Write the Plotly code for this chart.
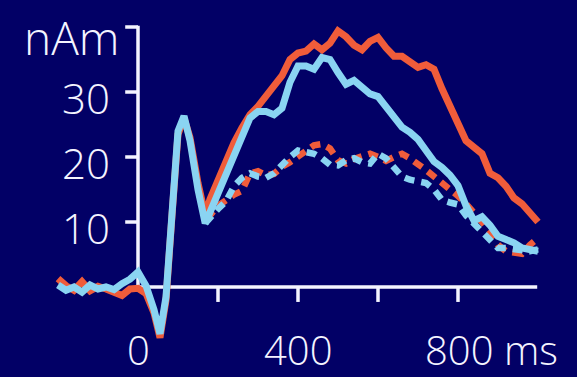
import plotly.graph_objects as go

# ---- data (time in ms, amplitude in nAm) ----
T_PRE = [-200, -180, -160, -140, -120, -100, -80, -60, -40, -20, 0]
T_EARLY = [20, 40, 55, 70, 85, 100, 115, 130, 150, 168]
T_LATE = list(range(180, 1001, 20))
TIME = T_PRE + T_EARLY + T_LATE
TIME_DOTTED = [168] + T_LATE

blue_solid = ([0.3, -0.5, 0.0, -0.8, 0.3, -0.3, 0.0, -0.4, 0.5, 1.2, 2.3]
              + [0.2, -3.5, -7.2, -1.5, 11.5, 24.0, 26.3, 22.5, 15.0, 9.8]
              + [11.5, 14.3, 17.5, 20.5, 23.3, 26.0, 27.0, 27.0, 26.5, 27.5,
                 31.5, 34.0, 34.0, 33.5, 35.3, 35.0, 33.0, 31.2, 31.8, 30.8,
                 29.7, 29.3, 27.8, 26.0, 24.6, 23.8, 22.7, 21.0, 19.3, 18.4,
                 17.2, 15.6, 12.5, 10.2, 10.8, 9.5, 7.8, 7.3, 6.8, 6.0,
                 5.7, 5.5])

orange_solid = ([1.3, 0.2, -0.5, 0.8, -0.6, 0.1, -0.3, -0.8, -1.3, -0.3, -0.2]
                + [-1.0, -4.0, -7.8, -2.0, 11.0, 23.5, 26.0, 23.0, 16.0, 11.0]
                + [13.5, 16.5, 19.5, 22.2, 24.5, 26.5, 27.8, 29.5, 30.8, 32.5,
                   35.0, 36.0, 36.3, 37.4, 36.5, 37.5, 39.4, 38.5, 37.2, 36.5,
                   37.8, 38.4, 36.8, 35.5, 35.5, 34.8, 33.8, 34.2, 33.5, 30.5,
                   27.8, 25.5, 22.5, 21.5, 20.5, 17.5, 16.8, 15.5, 13.7, 12.8,
                   11.2, 10.0])

orange_dotted = [11.0,
                 11.0, 12.5, 13.5, 14.2, 14.8, 17.5, 17.8, 17.2, 17.4, 18.5,
                 19.2, 20.0, 20.8, 21.8, 22.0, 21.3, 19.5, 19.0, 19.7, 20.2,
                 20.5, 20.0, 19.4, 20.0, 20.5, 19.8, 19.0, 18.0, 17.0, 16.0,
                 15.2, 14.0, 12.8, 11.5, 10.0, 8.5, 6.5, 5.5, 5.2, 5.1,
                 6.5, 7.5]

blue_dotted = [9.8,
               10.5, 12.0, 13.2, 15.5, 16.8, 17.5, 17.0, 16.8, 17.5, 18.8,
               20.0, 21.0, 20.8, 20.5, 19.8, 18.8, 18.7, 19.5, 19.8, 19.2,
               19.0, 20.5, 19.8, 18.2, 17.0, 16.5, 16.3, 16.0, 15.0, 13.4,
               13.0, 12.7, 11.0, 9.8, 8.7, 7.5, 6.0, 6.0, 5.9, 5.7,
               5.5, 5.8]

Y_TICKS = [10, 20, 30, 40]
Y_LABELS = ["10", "20", "30", "nAm"]
X_TICKS = [200, 400, 600, 800]
X_LABEL_VALUES = [0, 400, 800]
X_LABELS = ["0", "400", "800 ms"]

# ---- style ----
BG = "#020066"
ORANGE = "#F05C3A"
BLUE = "#8AD4F2"
WHITE = "#F4F4FF"
FONT = "'Open Sans', 'Noto Sans', sans-serif"

fig = go.Figure()
fig.add_trace(go.Scatter(x=TIME_DOTTED, y=orange_dotted, mode="lines",
                         line=dict(color=ORANGE, width=6.5, dash="10px,7px")))
fig.add_trace(go.Scatter(x=TIME_DOTTED, y=blue_dotted, mode="lines",
                         line=dict(color=BLUE, width=6.5, dash="10px,7px")))
fig.add_trace(go.Scatter(x=TIME, y=orange_solid, mode="lines",
                         line=dict(color=ORANGE, width=7)))
fig.add_trace(go.Scatter(x=TIME, y=blue_solid, mode="lines",
                         line=dict(color=BLUE, width=7)))

shapes = []
axis_line = dict(color=WHITE, width=3.5)
shapes.append(dict(type="line", xref="x", yref="y", x0=0, x1=998, y0=0, y1=0,
                   line=axis_line, layer="below"))
shapes.append(dict(type="line", xref="x", yref="y", x0=0, x1=0, y0=0, y1=40.2,
                   line=axis_line, layer="below"))
for v in Y_TICKS:
    shapes.append(dict(type="line", xref="x", yref="y", x0=-32, x1=0, y0=v, y1=v,
                       line=axis_line, layer="below"))
for t in X_TICKS:
    shapes.append(dict(type="line", xref="x", yref="y", x0=t, x1=t, y0=0, y1=-2.3,
                       line=axis_line, layer="below"))

y_font = dict(family=FONT, size=42, color=WHITE, weight=300)
unit_font = dict(family=FONT, size=46, color=WHITE, weight=300)
x_font = dict(family=FONT, size=40, color=WHITE, weight=300)
annotations = []
for v, lab in zip(Y_TICKS, Y_LABELS):
    is_unit = lab == "nAm"
    annotations.append(dict(x=0, y=v, xref="x", yref="y", text=lab, showarrow=False,
                            xanchor="right", yanchor="middle",
                            xshift=-17 if is_unit else -26,
                            yshift=-10 if is_unit else -5,
                            font=unit_font if is_unit else y_font))
for t, lab in zip(X_LABEL_VALUES, X_LABELS):
    is_last = lab.endswith("ms")
    annotations.append(dict(x=t, y=0, xref="x", yref="y", text=lab, showarrow=False,
                            xanchor="left" if is_last else "center", yanchor="middle",
                            xshift=-35 if is_last else 0, yshift=-62,
                            font=x_font))

fig.update_layout(
    width=577, height=377,
    margin=dict(l=0, r=0, t=0, b=0),
    paper_bgcolor=BG, plot_bgcolor=BG,
    showlegend=False,
    xaxis=dict(visible=False, range=[-345, 1097.5]),
    yaxis=dict(visible=False, range=[-13.846, 44.154]),
    shapes=shapes, annotations=annotations,
)
fig.write_html(
    "out.html",
    config={"displayModeBar": False},
    post_script="document.body.style.margin='0';document.body.style.background='#020066';",
)
